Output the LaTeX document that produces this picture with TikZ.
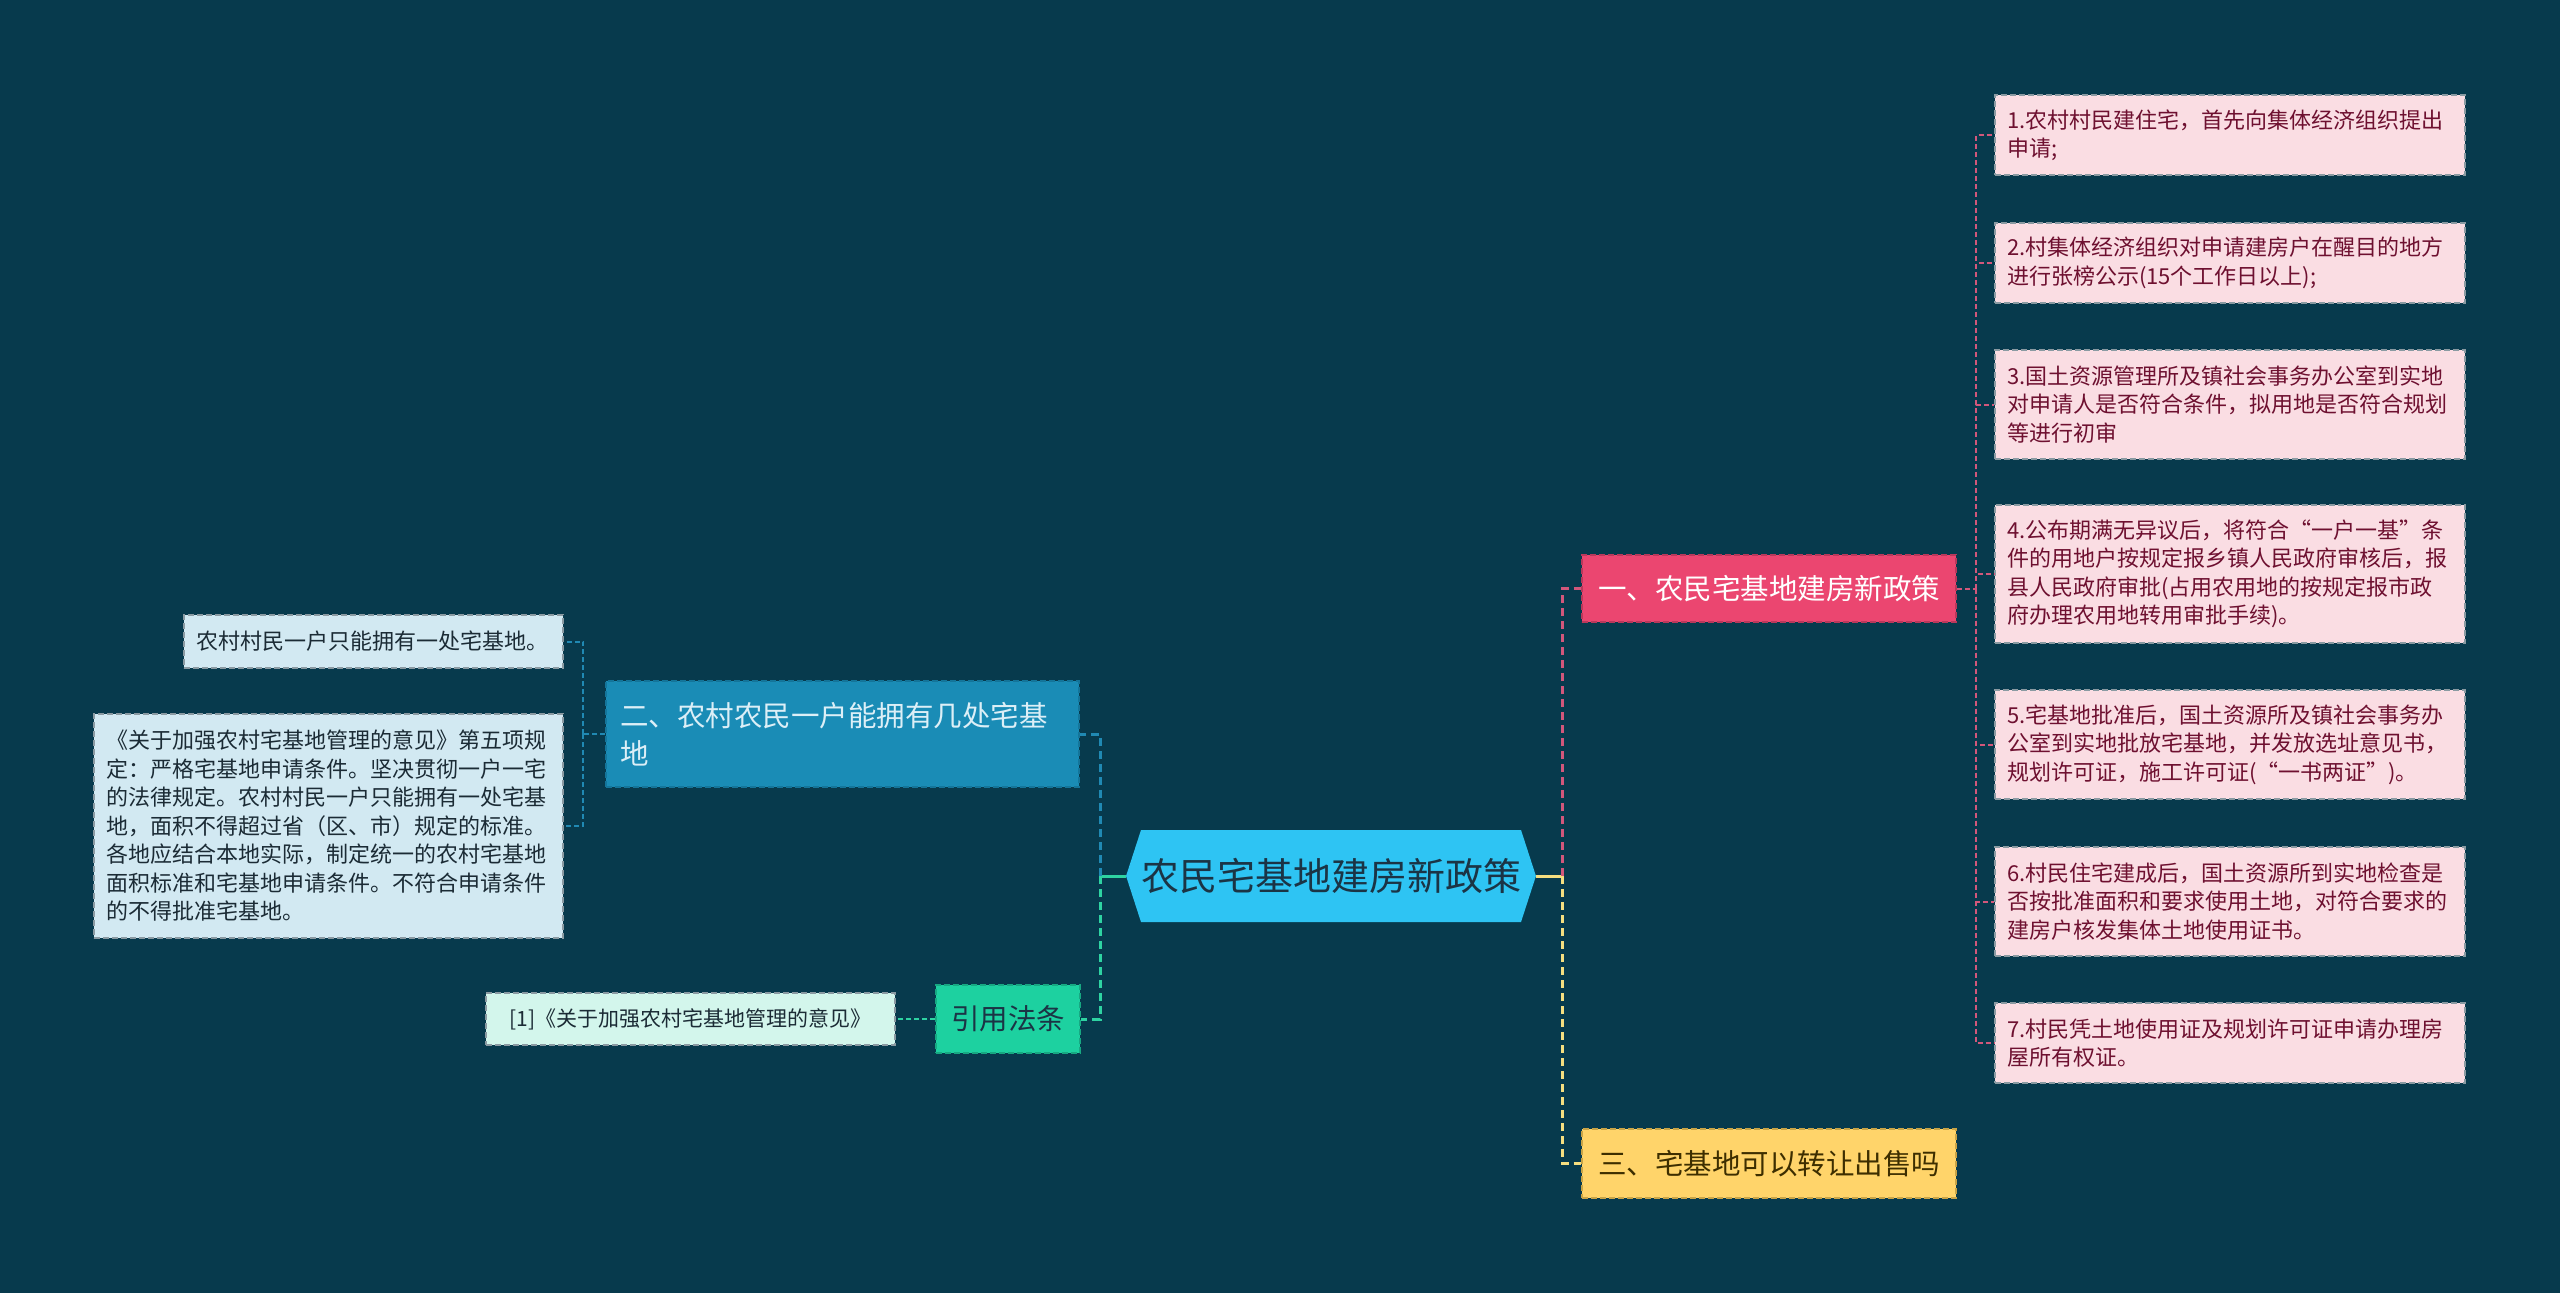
\documentclass[tikz,border=0pt]{standalone}
\usepackage{fontspec}
\setmainfont{Noto Sans CJK SC}
\usetikzlibrary{shapes.symbols}
\definecolor{bg}{HTML}{073A4D}
\definecolor{hubFill}{HTML}{2EC4F3}
\definecolor{hubInk}{HTML}{1B3445}
\definecolor{roseFill}{HTML}{EB4670}
\definecolor{roseEdge}{HTML}{B9385B}
\definecolor{roseLine}{HTML}{D2577B}
\definecolor{roseLeaf}{HTML}{FADDE3}
\definecolor{roseInk}{HTML}{6E1030}
\definecolor{sunFill}{HTML}{FFD46A}
\definecolor{sunEdge}{HTML}{C9A447}
\definecolor{sunLine}{HTML}{F5DE80}
\definecolor{sunInk}{HTML}{3D2E00}
\definecolor{seaFill}{HTML}{1A8CB6}
\definecolor{seaEdge}{HTML}{14759A}
\definecolor{seaLine}{HTML}{2089B3}
\definecolor{seaLeaf}{HTML}{D2E9F2}
\definecolor{seaInk}{HTML}{DCEFF7}
\definecolor{mintFill}{HTML}{1DD1A0}
\definecolor{mintEdge}{HTML}{17A882}
\definecolor{mintLine}{HTML}{2ED3A2}
\definecolor{mintLeaf}{HTML}{D3F6EC}
\definecolor{leafInk}{HTML}{1B2B35}
\definecolor{leafEdge}{HTML}{8A9AA2}
\tikzset{
  hub/.style={signal, signal to=east and west, signal pointer angle=144, fill=hubFill, text=hubInk, minimum width=405pt, minimum height=92pt, inner sep=0pt, font=\fontsize{38}{44}\selectfont},
  topic/.style={rectangle, draw, dashed, dash pattern=on 6pt off 3pt, line width=1.5pt, inner sep=0pt, align=center, font=\fontsize{28.5}{38}\selectfont},
  rose/.style={topic, fill=roseFill, draw=roseEdge, text=white, minimum width=374pt, minimum height=67pt},
  sun/.style={topic, fill=sunFill, draw=sunEdge, text=sunInk, minimum width=374pt, minimum height=69pt},
  sea/.style={topic, fill=seaFill, draw=seaEdge, text=seaInk, align=left, text width=445pt, inner xsep=14pt, minimum height=106pt},
  mint/.style={topic, fill=mintFill, draw=mintEdge, text=hubInk, minimum width=144pt, minimum height=68pt},
  leaf/.style={rectangle, draw=leafEdge, dashed, dash pattern=on 6pt off 3pt, line width=1.2pt, inner xsep=12pt, inner ysep=0pt, align=left, text width=446pt, font=\fontsize{22}{28.5}\selectfont},
  roseleaf/.style={leaf, fill=roseLeaf, text=roseInk},
  sealeaf/.style={leaf, fill=seaLeaf, text=leafInk},
  mintleaf/.style={leaf, fill=mintLeaf, text=leafInk},
  link/.style={line width=3pt, dashed, dash pattern=on 8pt off 5pt},
  twig/.style={line width=2pt, dashed, dash pattern=on 5pt off 3pt},
}
\begin{document}
\begin{tikzpicture}[x=1pt,y=-1pt]
  \fill[bg] (0,0) rectangle (2560,1293);
  \useasboundingbox (0,0) rectangle (2560,1293);

  \node[hub] (hub) at (1331,876) {农民宅基地建房新政策};

  \node[rose] (t1) at (1769,588.5) {一、农民宅基地建房新政策};
  \node[sun] (t3) at (1769,1163.5) {三、宅基地可以转让出售吗};
  \node[sea] (t2) at (842.5,734) {二、农村农民一户能拥有几处宅基\\地};
  \node[mint] (cite) at (1008,1019) {引用法条};

  \node[roseleaf,minimum height=80pt] (r1) at (2230,135) {1.农村村民建住宅，首先向集体经济组织提出\\申请;};
  \node[roseleaf,minimum height=80pt] (r2) at (2230,263) {2.村集体经济组织对申请建房户在醒目的地方\\进行张榜公示(15个工作日以上);};
  \node[roseleaf,minimum height=109pt] (r3) at (2230,404.5) {3.国土资源管理所及镇社会事务办公室到实地\\对申请人是否符合条件，拟用地是否符合规划\\等进行初审};
  \node[roseleaf,minimum height=138pt] (r4) at (2230,574) {4.公布期满无异议后，将符合“一户一基”条\\件的用地户按规定报乡镇人民政府审核后，报\\县人民政府审批(占用农用地的按规定报市政\\府办理农用地转用审批手续)。};
  \node[roseleaf,minimum height=109pt] (r5) at (2230,744.5) {5.宅基地批准后，国土资源所及镇社会事务办\\公室到实地批放宅基地，并发放选址意见书，\\规划许可证，施工许可证(“一书两证”)。};
  \node[roseleaf,minimum height=109pt] (r6) at (2230,901.5) {6.村民住宅建成后，国土资源所到实地检查是\\否按批准面积和要求使用土地，对符合要求的\\建房户核发集体土地使用证书。};
  \node[roseleaf,minimum height=80pt] (r7) at (2230,1043) {7.村民凭土地使用证及规划许可证申请办理房\\屋所有权证。};

  \node[sealeaf,text width=355pt,minimum height=53pt] (s1) at (373.5,641.5) {农村村民一户只能拥有一处宅基地。};
  \node[sealeaf,text width=445pt,minimum height=224pt] (s2) at (328.5,826) {《关于加强农村宅基地管理的意见》第五项规\\定：严格宅基地申请条件。坚决贯彻一户一宅\\的法律规定。农村村民一户只能拥有一处宅基\\地，面积不得超过省（区、市）规定的标准。\\各地应结合本地实际，制定统一的农村宅基地\\面积标准和宅基地申请条件。不符合申请条件\\的不得批准宅基地。};
  \node[mintleaf,text width=385pt,minimum height=52pt,align=center,font=\fontsize{21}{26}\selectfont] (m1) at (690.5,1019) {[1]《关于加强农村宅基地管理的意见》};

  \coordinate (rj) at (1562,876);
  \coordinate (lj) at (1100,876);
  \coordinate (pj) at (1976,588.5);
  \coordinate (sj) at (583,734);

  \draw[sunLine,line width=3pt] (hub.east) -- (rj);
  \draw[roseLine,link] (rj) |- (t1.west);
  \draw[sunLine,link] (rj) |- (t3.west);
  \draw[mintLine,line width=3pt] (hub.west) -- (lj);
  \draw[seaLine,link] (lj) |- (t2.east);
  \draw[mintLine,link] (lj) |- (cite.east);

  \draw[roseLine,twig] (t1.east) -- (pj);
  \foreach \k in {r1,r2,r3,r4,r5,r6,r7}
    \draw[roseLine,twig] (pj) |- (\k.west);
  \draw[seaLine,twig] (t2.west) -- (sj);
  \draw[seaLine,twig] (sj) |- (s1.east);
  \draw[seaLine,twig] (sj) |- (s2.east);
  \draw[mintLine,twig] (cite.west) -- (m1.east);
\end{tikzpicture}
\end{document}
